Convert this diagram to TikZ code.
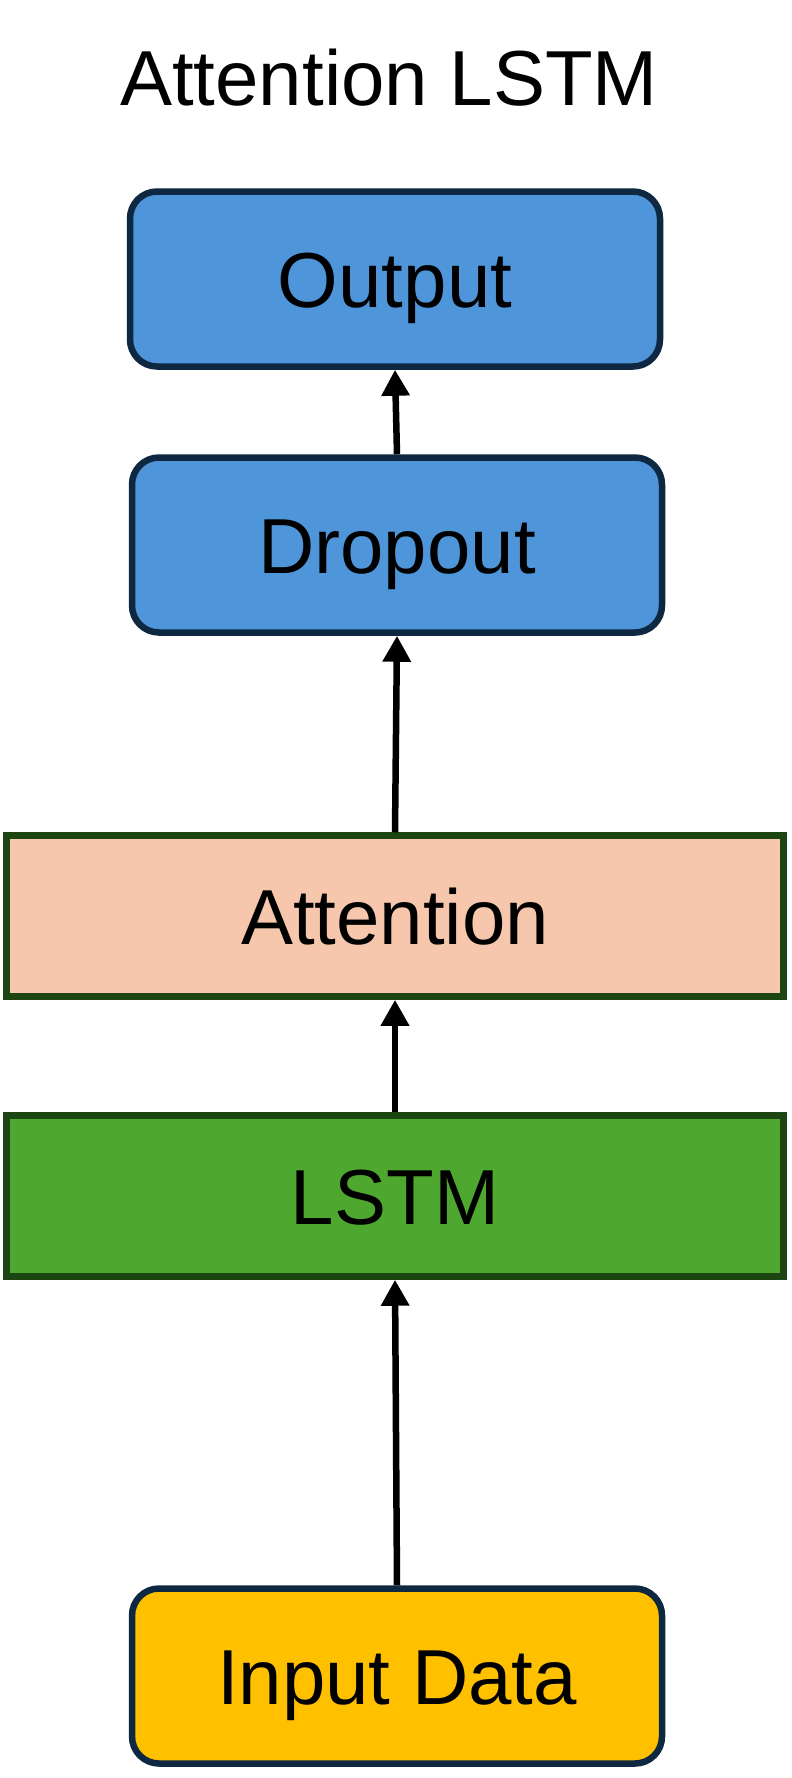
\documentclass[tikz,border=0pt]{standalone}
\usepackage{fontspec}
\setmainfont{Liberation Sans}
\usetikzlibrary{arrows.meta}
\definecolor{boxblue}{HTML}{4E95D9}
\definecolor{navyline}{HTML}{0E2841}
\definecolor{peach}{HTML}{F6C6AD}
\definecolor{leafgreen}{HTML}{4EA72E}
\definecolor{greenline}{HTML}{1C4512}
\definecolor{gold}{HTML}{FFC000}
\tikzset{
    bigtext/.style={font=\fontsize{78}{92}\selectfont},
    roundbox/.style={bigtext, draw=navyline, line width=6.5pt, rounded corners=27pt,
        minimum width=530pt, minimum height=175pt, inner sep=0pt, outer sep=3.25pt,
        text height=56pt, text depth=0pt},
    layerbox/.style={bigtext, draw=greenline, line width=6.5pt,
        minimum width=777pt, minimum height=161pt, inner sep=0pt, outer sep=3.25pt,
        text height=56pt, text depth=0pt},
    link/.style={line width=6.5pt, -{Triangle[width=27pt,length=26pt]}}
}
\begin{document}
\begin{tikzpicture}[x=1pt, y=-1pt]
            \useasboundingbox (0, 0) rectangle (792, 1778);
            \node[bigtext, anchor=base] (title) at (389, 105) {Attention LSTM};
            \node[roundbox, fill=boxblue] (out) at (395, 279) {Output};
            \node[roundbox, fill=boxblue] (drop) at (397, 545) {Dropout};
            \node[layerbox, fill=peach] (attn) at (395, 916) {Attention};
            \node[layerbox, fill=leafgreen] (lstm) at (395, 1196) {LSTM};
            \node[roundbox, fill=gold] (input) at (397, 1676) {Input Data};
            \foreach \a/\b in {input/lstm, lstm/attn, attn/drop, drop/out} {
                \draw[link] (\a.north) -- (\b.south);
            }
        \end{tikzpicture}
\end{document}
